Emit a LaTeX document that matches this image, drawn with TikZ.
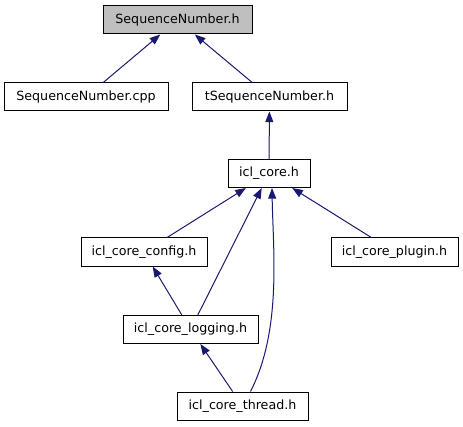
\documentclass[tikz,border=0pt]{standalone}
\usepackage{fontspec}
\setmainfont{DejaVu Sans}
\usetikzlibrary{arrows.meta}

\definecolor{edgeblue}{HTML}{191970}
\definecolor{rootgray}{HTML}{BFBFBF}

\begin{document}
\begin{tikzpicture}[x=0.75pt,y=-0.75pt,
  file/.style={draw=black,line width=0.75pt,minimum height=21pt,inner sep=0pt,
    font=\fontsize{9.5}{11}\selectfont},
  dep/.style={edgeblue,line width=0.75pt,-{Triangle[length=8pt,width=6pt]}}]
\useasboundingbox (0,0) rectangle (463,427);
\node[file,fill=rootgray,minimum width=111.75pt] (seqh) at (177.5,20) {SequenceNumber.h};
\foreach \n/\x/\y/\w/\t in {seqcpp/86/97/123/{SequenceNumber.cpp},
  tseq/269.5/97/116.25/{tSequenceNumber.h},
  core/269/173.5/61.5/{icl\_core.h},
  config/144/252/94.5/{icl\_core\_config.h},
  plugin/394.5/252/95.25/{icl\_core\_plugin.h},
  logging/190.5/329.5/101.25/{icl\_core\_logging.h},
  thread/242.5/406/98.25/{icl\_core\_thread.h}}{
  \node[file,minimum width=\w pt] (\n) at (\x,\y) {\t};
}
\draw[dep] (seqcpp) -- (seqh);
\draw[dep] (tseq) -- (seqh);
\draw[dep] (core) -- (tseq);
\draw[dep] (config) -- (core);
\draw[dep] (logging) -- (core);
\draw[dep] ([xshift=6pt]thread.north) .. controls (282,330) and (273,250) .. ([xshift=2.25pt]core.south);
\draw[dep] (plugin) -- (core);
\draw[dep] (logging) -- (config);
\draw[dep] (thread) -- (logging);
\end{tikzpicture}
\end{document}
